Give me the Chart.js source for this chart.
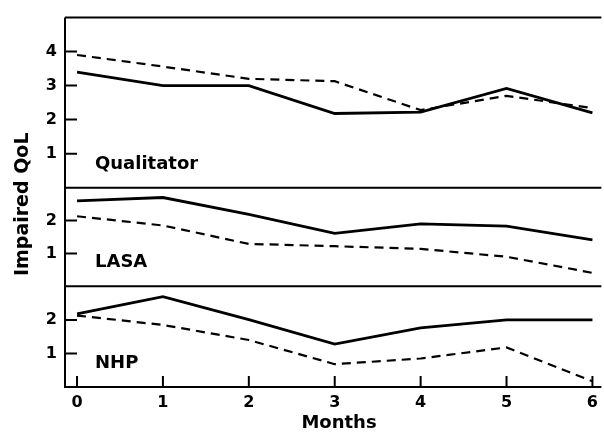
<!DOCTYPE html>
<html>
<head>
<meta charset="utf-8">
<script src="https://cdn.jsdelivr.net/npm/chart.js@4"></script>
<style>
  html, body { margin: 0; padding: 0; background: #fff; }
  canvas { display: block; }
</style>
</head>
<body>
<canvas id="qolChart" width="604" height="436"></canvas>
<script>
// months of follow-up
const months = [0, 1, 2, 3, 4, 5, 6];

// impaired quality of life scores, solid and dashed groups per instrument
const qualitatorSolid = [3.4, 3.0, 3.0, 2.18, 2.22, 2.92, 2.2];
const qualitatorDashed = [3.9, 3.56, 3.2, 3.13, 2.28, 2.7, 2.34];
const lasaSolid = [2.6, 2.7, 2.19, 1.61, 1.9, 1.83, 1.41];
const lasaDashed = [2.13, 1.85, 1.29, 1.22, 1.14, 0.9, 0.41];
const nhpSolid = [2.18, 2.69, 2.01, 1.28, 1.76, 2.0, 2.0];
const nhpDashed = [2.13, 1.85, 1.4, 0.68, 0.85, 1.18, 0.17];

const qualitatorTicks = [1, 2, 3, 4];
const lasaTicks = [1, 2];
const nhpTicks = [1, 2];

const panelNames = { yQ: "Qualitator", yL: "LASA", yN: "NHP" };

const FONT = "'DejaVu Sans', Verdana, sans-serif";

function points(values) {
  return months.map((m, i) => ({ x: m, y: values[i] }));
}

function series(values, axis, dashed) {
  return {
    data: points(values),
    yAxisID: axis,
    borderColor: "#000",
    borderWidth: dashed ? 2.2 : 2.8,
    borderDash: dashed ? [9, 6] : [],
    pointRadius: 0,
    tension: 0,
    fill: false,
  };
}

function yScale(max, weight, order, tickValues) {
  return {
    type: "linear",
    position: "left",
    stack: "panels",
    stackWeight: weight,
    weight: order,
    min: 0,
    max: max,
    grid: { display: false, drawTicks: false },
    border: { display: false },
    afterBuildTicks: (s) => { s.ticks = tickValues.map((v) => ({ value: v })); },
    afterFit: (s) => { s.width = 65; },
    ticks: {
      color: "#000",
      padding: 8,
      font: { family: FONT, size: 16, weight: "bold" },
    },
  };
}

// frame, inward tick marks and the text around the panels
const framePlugin = {
  id: "frame",
  afterDraw(chart) {
    const { ctx, chartArea: a, scales } = chart;
    ctx.save();
    ctx.strokeStyle = "#000";
    ctx.lineWidth = 2;
    ctx.beginPath();
    ctx.moveTo(a.left, a.top);
    ctx.lineTo(a.left, a.bottom);
    ctx.lineTo(a.right, a.bottom);
    ["yQ", "yL", "yN"].forEach((id) => {
      ctx.moveTo(a.left, scales[id].top);
      ctx.lineTo(a.right, scales[id].top);
    });
    ["yQ", "yL", "yN"].forEach((id) => {
      scales[id].ticks.forEach((t) => {
        const py = scales[id].getPixelForValue(t.value);
        ctx.moveTo(a.left, py);
        ctx.lineTo(a.left + 12, py);
      });
    });
    months.forEach((m) => {
      const px = scales.x.getPixelForValue(m);
      ctx.moveTo(px, a.bottom);
      ctx.lineTo(px, a.bottom - 11);
    });
    ctx.stroke();

    ctx.fillStyle = "#000";
    ctx.font = "bold 18px " + FONT;
    ctx.textAlign = "left";
    ctx.textBaseline = "alphabetic";
    Object.keys(panelNames).forEach((id) => {
      ctx.fillText(panelNames[id], a.left + 30, scales[id].bottom - 19);
    });

    ctx.textAlign = "center";
    ctx.fillText("Months", 339, 428);

    ctx.font = "bold 19px " + FONT;
    ctx.translate(28, (a.top + a.bottom) / 2 + 2);
    ctx.rotate(-Math.PI / 2);
    ctx.fillText("Impaired QoL", 0, 0);
    ctx.restore();
  },
};

new Chart(document.getElementById("qolChart"), {
  type: "line",
  data: {
    datasets: [
      series(qualitatorSolid, "yQ", false),
      series(qualitatorDashed, "yQ", true),
      series(lasaSolid, "yL", false),
      series(lasaDashed, "yL", true),
      series(nhpSolid, "yN", false),
      series(nhpDashed, "yN", true),
    ],
  },
  options: {
    responsive: false,
    animation: false,
    layout: { padding: { top: 9, left: 0, right: 0, bottom: 0 } },
    plugins: { legend: { display: false }, tooltip: { enabled: false } },
    scales: {
      x: {
        type: "linear",
        position: "bottom",
        min: -0.14,
        max: 6.104,
        grid: { display: false, drawTicks: false },
        border: { display: false },
        afterBuildTicks: (s) => { s.ticks = months.map((v) => ({ value: v })); },
        afterFit: (s) => { s.height = 49; },
        ticks: {
          color: "#000",
          padding: 6,
          maxRotation: 0,
          font: { family: FONT, size: 16, weight: "bold" },
        },
      },
      yQ: yScale(5, 174, 3, qualitatorTicks),
      yL: yScale(3, 101, 2, lasaTicks),
      yN: yScale(3, 103, 1, nhpTicks),
    },
  },
  plugins: [framePlugin],
});
</script>
</body>
</html>
